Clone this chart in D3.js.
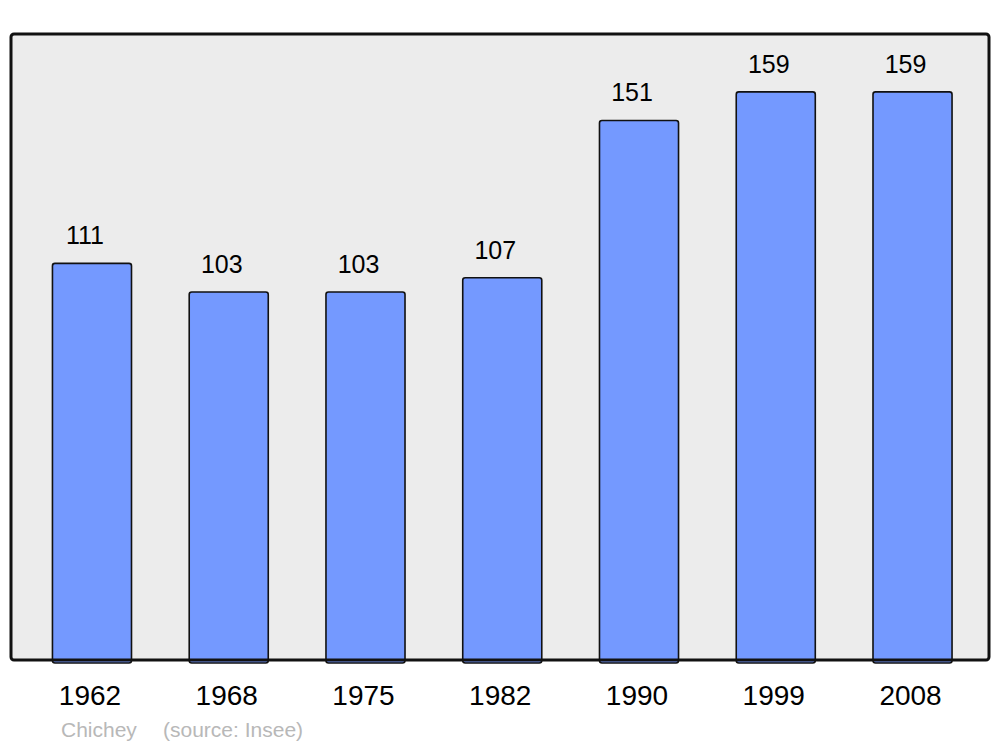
<!DOCTYPE html>
<html><head><meta charset="utf-8">
<script src="https://cdn.jsdelivr.net/npm/d3@7"></script>
<style>body{margin:0;background:#fff}svg{display:block}</style>
</head><body>
<script>
const years = ["1962","1968","1975","1982","1990","1999","2008"];
const population = [111,103,103,107,151,159,159];
const commune = "Chichey";
const source = "(source: Insee)";

const W = 1000, H = 747;
const svg = d3.select("body").append("svg").attr("width", W).attr("height", H);
const frame = {x0: 11, x1: 989, y0: 34, y1: 660};

svg.append("rect").attr("x", frame.x0).attr("y", frame.y0)
  .attr("width", frame.x1 - frame.x0).attr("height", frame.y1 - frame.y0)
  .attr("rx", 3).attr("fill", "#ececec");

const x = d3.scaleBand().domain(years).range([23.6, 980.9])
  .paddingInner(0.422).paddingOuter(0.211);
const y = d3.scaleLinear().domain([0, 175.2]).range([frame.y1, frame.y0]);

svg.selectAll("rect.bar").data(years).join("rect").attr("class","bar")
  .attr("x", d => x(d)).attr("width", x.bandwidth())
  .attr("y", (d,i) => y(population[i])).attr("height", (d,i) => y(0) - y(population[i]) + 3)
  .attr("rx", 2.5).attr("fill", "#7499ff").attr("stroke", "#111").attr("stroke-width", 1.6);

svg.selectAll("text.val").data(years).join("text").attr("class","val")
  .attr("x", d => x(d) + x.bandwidth()/2 - 7).attr("y", (d,i) => y(population[i]) - 19)
  .attr("text-anchor","middle").attr("font-family","Liberation Sans, Arial, sans-serif")
  .attr("font-size", 25).attr("fill","#000").text((d,i) => population[i]);

// frame border on top
svg.append("rect").attr("x", frame.x0).attr("y", frame.y0)
  .attr("width", frame.x1 - frame.x0).attr("height", frame.y1 - frame.y0)
  .attr("rx", 3).attr("fill", "none").attr("stroke", "#111").attr("stroke-width", 3);

const xAxis = d3.axisBottom(x).tickSize(0).tickPadding(0);
const ax = svg.append("g").attr("transform", `translate(-2,${frame.y1})`).call(xAxis);
ax.select(".domain").remove();
ax.selectAll("text").attr("y", 45).attr("dy", 0)
  .attr("font-family","Liberation Sans, Arial, sans-serif").attr("font-size", 28).attr("fill","#000");

svg.append("text").attr("x", 61).attr("y", 737)
  .attr("font-family","Liberation Sans, Arial, sans-serif").attr("font-size", 21).attr("fill","#b8b8b8")
  .text(commune);
svg.append("text").attr("x", 163).attr("y", 737)
  .attr("font-family","Liberation Sans, Arial, sans-serif").attr("font-size", 21).attr("fill","#b8b8b8")
  .text(source);
</script>
</body></html>
